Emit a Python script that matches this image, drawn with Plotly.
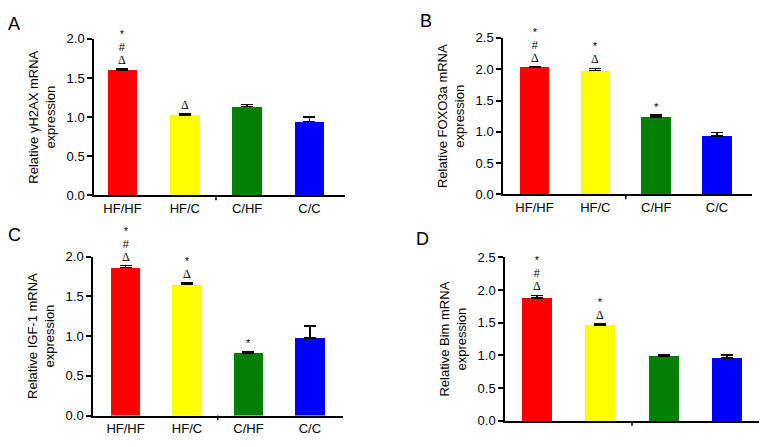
import plotly.graph_objects as go

W, H = 765, 447

categories = ["HF/HF", "HF/C", "C/HF", "C/C"]
colors = ["#FF0000", "#FFFF00", "#007F00", "#0000FF"]

# Panel A: gammaH2AX
a_vals = [1.605, 1.03, 1.135, 0.945]
a_err = [0.01, 0.01, 0.025, 0.055]
a_marks = [["*", "#", "Δ"], ["Δ"], [], []]
# Panel B: FOXO3a
b_vals = [2.03, 1.98, 1.24, 0.93]
b_err = [0.01, 0.035, 0.03, 0.06]
b_marks = [["*", "#", "Δ"], ["*", "Δ"], ["*"], []]
# Panel C: IGF-1
c_vals = [1.866, 1.647, 0.787, 0.978]
c_err = [0.02, 0.023, 0.02, 0.146]
c_marks = [["*", "#", "Δ"], ["*", "Δ"], ["*"], []]
# Panel D: Bim
d_vals = [1.88, 1.467, 0.99, 0.96]
d_err = [0.04, 0.015, 0.015, 0.045]
d_marks = [["*", "#", "Δ"], ["*", "Δ"], [], []]

panels = [
    dict(letter="A", vals=a_vals, err=a_err, marks=a_marks, ymax=2.0, dtick=0.5,
         title="Relative γH2AX mRNA<br>expression", labels=True,
         px=(94, 345), py=(195, 33), xr=(-0.457, 3.57), bw=0.48, lpos=(6, 18)),
    dict(letter="B", vals=b_vals, err=b_err, marks=b_marks, ymax=2.5, dtick=0.5,
         title="Relative FOXO3a mRNA<br>expression", labels=True,
         px=(503, 752), py=(194, 32), xr=(-0.518, 3.575), bw=0.485, lpos=(418, 14)),
    dict(letter="C", vals=c_vals, err=c_err, marks=c_marks, ymax=2.0, dtick=0.5,
         title="Relative IGF-1 mRNA<br>expression", labels=True,
         px=(93, 343), py=(422.7, 258.3), xr=(-0.53, 3.54), bw=0.48, lpos=(6, 236)),
    dict(letter="D", vals=d_vals, err=d_err, marks=d_marks, ymax=2.5, dtick=0.5,
         title="Relative Bim mRNA<br>expression", labels=False,
         px=(505, 759), py=(428.3, 259), xr=(-0.51, 3.51), bw=0.475, lpos=(414, 240)),
]

fig = go.Figure()
annotations = []
shapes = []
FONT = "Liberation Sans, Arial, sans-serif"
SERIF = "Liberation Serif, Times New Roman, serif"


def mark_html(m):
    if m == "Δ":
        return f"<span style='font-family:{SERIF};font-size:12px'>Δ</span>"
    return f"<span style='font-size:11px'>{m}</span>"


for i, p in enumerate(panels):
    n = "" if i == 0 else str(i + 1)
    xa, ya = "x" + n, "y" + n
    fig.add_trace(go.Bar(
        x=list(range(len(categories))), y=p["vals"], xaxis=xa, yaxis=ya,
        width=p["bw"], marker=dict(color=colors, line=dict(width=0)),
        error_y=dict(type="data", array=p["err"], arrayminus=[0] * 4, symmetric=False,
                     color="black", thickness=1.5, width=6),
        showlegend=False, hoverinfo="skip"))
    x0, x1 = p["px"]
    yb, yt = p["py"]
    fig.update_layout(**{
        "xaxis" + n: dict(domain=[x0 / W, x1 / W], range=list(p["xr"]), anchor=ya,
                          tickvals=list(range(4)),
                          ticktext=categories if p["labels"] else [""] * 4,
                          ticks="", showline=True, linecolor="black", linewidth=1.5,
                          showgrid=False, zeroline=False,
                          tickfont=dict(family=FONT, size=13, color="black")),
        "yaxis" + n: dict(domain=[1 - yb / H, 1 - yt / H], range=[0, p["ymax"]], anchor=xa,
                          dtick=p["dtick"], tickformat=".1f", ticks="outside", ticklen=5,
                          tickwidth=1.5, tickcolor="black",
                          showline=True, linecolor="black", linewidth=1.5,
                          showgrid=False, zeroline=False,
                          tickfont=dict(family=FONT, size=13, color="black"),
                          title=dict(text=p["title"], standoff=8,
                                     font=dict(family=FONT, size=13, color="black"))),
    })
    # middle tick on x axis
    shapes.append(dict(type="line", xref=xa, yref="paper", x0=1.5, x1=1.5,
                       y0=1 - yb / H, y1=1 - (yb + 5) / H,
                       line=dict(color="black", width=1.5)))
    # significance marks (one stacked text per bar)
    for j, marks in enumerate(p["marks"]):
        if not marks:
            continue
        top = p["vals"][j] + p["err"][j]
        annotations.append(dict(
            x=j, y=top, xref=xa, yref=ya, text="<br>".join(mark_html(m) for m in marks),
            showarrow=False, yanchor="bottom", yshift=1, borderpad=0,
            font=dict(family=FONT, size=10, color="black")))
    # panel letter
    annotations.append(dict(x=p["lpos"][0] / W, y=1 - p["lpos"][1] / H, xref="paper", yref="paper",
                            text=p["letter"], showarrow=False, xanchor="left", yanchor="middle",
                            font=dict(family=FONT, size=18, color="black")))

fig.update_layout(width=W, height=H, margin=dict(l=0, r=0, t=0, b=0),
                  paper_bgcolor="white", plot_bgcolor="white",
                  annotations=annotations, shapes=shapes, bargap=0)
fig.write_html("out.html", config={"displayModeBar": False},
               post_script="document.body.style.margin='0';")
